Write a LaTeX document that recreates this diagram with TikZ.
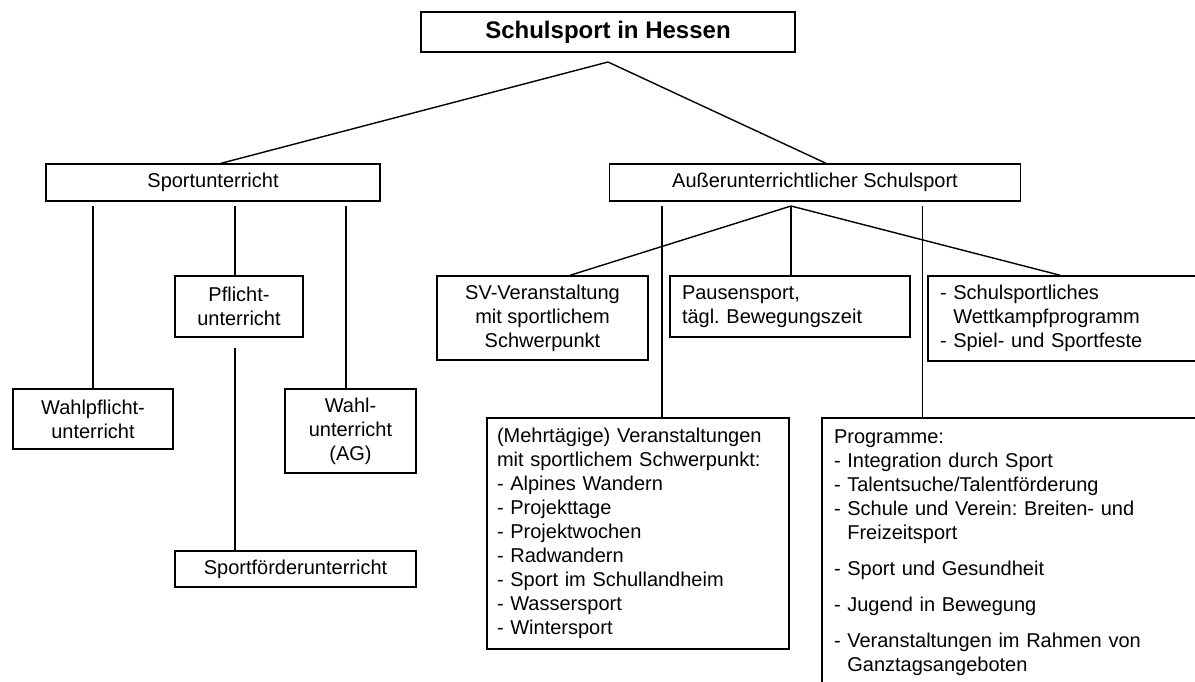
\documentclass[tikz,border=0pt]{standalone}
\usepackage{fontspec}
\setmainfont{Liberation Sans}
\usetikzlibrary{calc}
\frenchspacing
\begin{document}
\begin{tikzpicture}[x=0.5pt,y=-0.5pt,box node/.style={draw, line width=0.7pt, font=\fontsize{10}{12}\selectfont\frenchspacing, align=center, inner sep=0pt},list node/.style={box node, align=left, inner xsep=6pt},head node/.style={box node, font=\fontsize{12}{14}\selectfont\bfseries},link/.style={line width=0.7pt}]%
\useasboundingbox (0,0) rectangle (1195,681);%
\clip (0,0) rectangle (1195,681);%
  % Top%
\node[head node, minimum width=187pt, minimum height=20pt] (top) at (608,32) {Schulsport in Hessen};%
\coordinate (tfork) at (608,62);%
  % Level 1%
\node[box node, minimum width=167pt, minimum height=18.5pt] (sport) at (213,182.5) {Sportunterricht};%
\node[box node, minimum width=205.5pt, minimum height=18.5pt] (aus) at (815,182.5) {Außerunterrichtlicher Schulsport};%
\draw[link] (tfork) -- ($(sport.north)+(8,0)$);%
\draw[link] (tfork) -- ($(aus.north)+(11,0)$);%
  % Sportunterricht%
\node[box node, minimum width=64pt, minimum height=30.5pt] (pflicht) at (239,306.5) {Pflicht-\\unterricht};%
\node[box node, minimum width=80pt, minimum height=30pt] (wpf) at (93,419) {Wahlpflicht-\\unterricht};%
\node[box node, minimum width=65.5pt, minimum height=42pt] (wahl) at (350.5,431) {Wahl-\\unterricht\\(AG)};%
\node[box node, minimum width=120.5pt, minimum height=18pt] (foerder) at (295.5,569) {Sportförderunterricht};%
\coordinate (su1) at (93,206);%
\coordinate (su2) at (235,206);%
\coordinate (su3) at (346,206);%
\coordinate (pf1) at (235,348);%
\draw[link] (su1) -- (su1 |- wpf.north);%
\draw[link] (su2) -- (su2 |- pflicht.north);%
\draw[link] (su3) -- (su3 |- wahl.north);%
\draw[link] (pf1) -- (pf1 |- foerder.north);%
  % Ausserunterrichtlicher Schulsport%
\node[box node, minimum width=105.5pt, minimum height=42pt] (sv) at (542.5,318) {SV-Veranstaltung\\mit sportlichem\\Schwerpunkt};%
\node[list node, text width=108pt, minimum width=120pt, minimum height=30.5pt] (pause) at (790,306.5) {Pausensport,\\tägl.\ Bewegungszeit};%
\node[list node, text width=154pt, minimum width=166pt, minimum height=42.5pt] (wk) at (1094,318.5) {- Schulsportliches\\\phantom{- }Wettkampfprogramm\\- Spiel- und Sportfeste};%
\node[list node, inner xsep=5pt, text width=141pt, minimum width=151pt, minimum height=115.5pt] (mehr) at (638,533.5) {(Mehrtägige) Veranstaltungen\\mit sportlichem Schwerpunkt:\\- Alpines Wandern\\- Projekttage\\- Projektwochen\\- Radwandern\\- Sport im Schullandheim\\- Wassersport\\- Wintersport};%
\node[list node, text width=207pt, minimum width=219pt, minimum height=135pt] (prog) at (1041,553) {Programme:\\- Integration durch Sport\\- Talentsuche/Talentförderung\\- Schule und Verein: Breiten- und\\\phantom{- }Freizeitsport\\[6pt]- Sport und Gesundheit\\[6pt]- Jugend in Bewegung\\[6pt]- Veranstaltungen im Rahmen von\\\phantom{- }Ganztagsangeboten};%
\coordinate (afork) at (791,206);%
\coordinate (au1) at (662,206);%
\coordinate (au2) at (922.6,206);%
\draw[link] (afork) -- ($(sv.north)+(27.5,0)$);%
\draw[link] (afork) -- (afork |- pause.north);%
\draw[link] (afork) -- ($(wk.north west)+(133,0)$);%
\draw[link] (au1) -- (au1 |- mehr.north);%
\draw[link] (au2) -- (au2 |- prog.north);%
\end{tikzpicture}
\end{document}
